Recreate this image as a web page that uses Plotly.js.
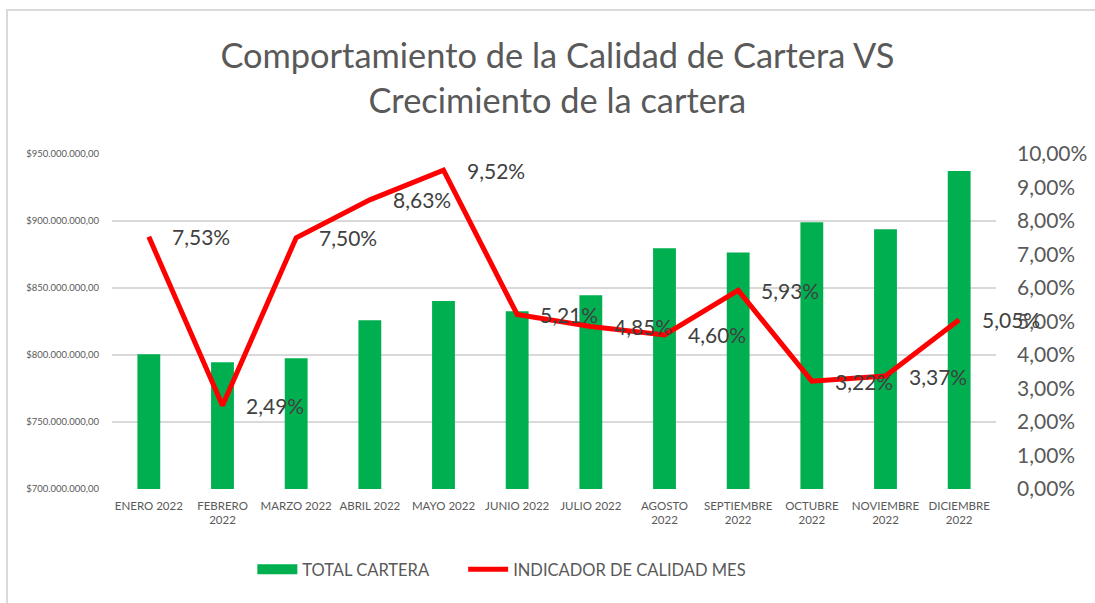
<!DOCTYPE html>
<html>
<head>
<meta charset="utf-8">
<script src="https://cdn.plot.ly/plotly-3.0.1.min.js"></script>
<style>
  html, body { margin: 0; padding: 0; background: #ffffff; }
  #chart { position: absolute; left: 0; top: 0; width: 1095px; height: 603px; }
  #frame { position: absolute; left: 6px; top: 9px; width: 1200px; height: 700px;
           border-left: 2px solid #D9D9D9; border-top: 2px solid #D9D9D9; pointer-events: none; }
</style>
</head>
<body>
<div id="chart"></div>
<div id="frame"></div>
<script>
const months = ["ENERO 2022", "FEBRERO 2022", "MARZO 2022", "ABRIL 2022", "MAYO 2022", "JUNIO 2022",
                "JULIO 2022", "AGOSTO 2022", "SEPTIEMBRE 2022", "OCTUBRE 2022", "NOVIEMBRE 2022", "DICIEMBRE 2022"];
const monthLabels = ["ENERO 2022", "FEBRERO<br>2022", "MARZO 2022", "ABRIL 2022", "MAYO 2022", "JUNIO 2022",
                     "JULIO 2022", "AGOSTO<br>2022", "SEPTIEMBRE<br>2022", "OCTUBRE<br>2022", "NOVIEMBRE<br>2022", "DICIEMBRE<br>2022"];
const totalCartera = [800500000, 794500000, 797500000, 826000000, 840300000, 832600000,
                      844500000, 879600000, 876400000, 899000000, 893800000, 937300000];
const indicadorCalidad = [7.53, 2.49, 7.50, 8.63, 9.52, 5.21, 4.85, 4.60, 5.93, 3.22, 3.37, 5.05];
const seriesNames = ["TOTAL CARTERA", "INDICADOR DE CALIDAD MES"];

const fontFam = "Lato, 'Open Sans', sans-serif";
const grey = "#595959";
const pad = "\u00A0\u00A0\u00A0\u00A0\u00A0\u00A0\u00A0";

const traces = [
  {
    type: "bar", name: seriesNames[0], x: months, y: totalCartera,
    marker: { color: "#00B050" }, width: 0.31, yaxis: "y", showlegend: false
  },
  {
    type: "scatter", mode: "lines", name: seriesNames[0] + pad, x: [null], y: [null],
    line: { color: "#00B050", width: 11 }, yaxis: "y", showlegend: true, hoverinfo: "skip"
  },
  {
    type: "scatter", mode: "lines", name: seriesNames[1], x: months, y: indicadorCalidad,
    line: { color: "#FF0000", width: 5 }, yaxis: "y2"
  }
];

const annotations = months.map((m, i) => ({
  x: m, y: indicadorCalidad[i], xref: "x", yref: "y2",
  text: indicadorCalidad[i].toFixed(2).replace(".", ",") + "%",
  showarrow: false, xanchor: "left", yanchor: "middle", xshift: 21,
  font: { family: fontFam, size: 21, color: "#404040" }
}));

const layout = {
  width: 1095, height: 603,
  paper_bgcolor: "#ffffff", plot_bgcolor: "#ffffff",
  separators: ",.",
  margin: { l: 112, r: 99, t: 154, b: 114 },
  title: {
    text: "Comportamiento de la Calidad de Cartera VS<br>Crecimiento de la cartera",
    font: { family: fontFam, size: 34.4, color: grey },
    x: 0.509, xanchor: "center", y: 0.887, yanchor: "top"
  },
  xaxis: {
    type: "category", tickvals: months, ticktext: monthLabels,
    range: [-0.5, 11.5], autorange: false,
    tickfont: { family: fontFam, size: 11.5, color: grey },
    showgrid: false, showline: false, ticks: "", fixedrange: true,
    automargin: false, ticklabelstandoff: 8
  },
  yaxis: {
    range: [700000000, 950000000], autorange: false, dtick: 50000000, tickformat: "$,.2f",
    tickfont: { family: fontFam, size: 9.5, color: grey },
    gridcolor: "#D9D9D9", gridwidth: 1.5, zeroline: false, showline: false,
    ticklabelstandoff: 12, automargin: false
  },
  yaxis2: {
    overlaying: "y", side: "right", range: [0, 10], autorange: false, dtick: 1,
    tickformat: ".2f", ticksuffix: "%",
    tickfont: { family: fontFam, size: 21, color: grey },
    showgrid: false, zeroline: false, showline: false,
    ticklabelstandoff: 20, automargin: false
  },
  showlegend: true,
  legend: {
    orientation: "h", x: 0.441, xanchor: "center", y: -0.24, yanchor: "middle",
    font: { family: fontFam, size: 16.5, color: grey },
    itemwidth: 40, traceorder: "normal"
  },
  annotations: annotations,
  bargap: 0.69
};

Plotly.newPlot("chart", traces, layout, { displayModeBar: false, staticPlot: true });
</script>
</body>
</html>
